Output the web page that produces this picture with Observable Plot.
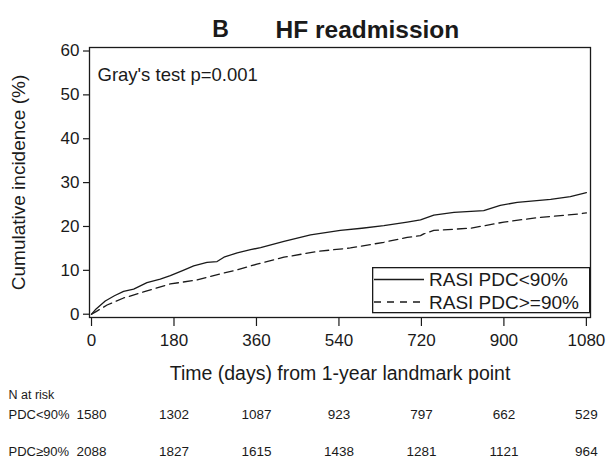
<!DOCTYPE html>
<html>
<head>
<meta charset="utf-8">
<script src="https://cdn.jsdelivr.net/npm/d3@7"></script>
<script src="https://cdn.jsdelivr.net/npm/@observablehq/plot@0.6"></script>
<style>
  html, body { margin: 0; padding: 0; background: #fff; }
  #wrap { position: relative; width: 608px; height: 471px; font-family: "Liberation Sans", Arial, sans-serif; }
  #legend { position: absolute; left: 372px; top: 267px; }
</style>
</head>
<body>
<div id="wrap"></div>
<script>
// Cumulative incidence (%) — RASI PDC<90%
const daysLt = [0, 10, 30, 50, 70, 92, 121, 150, 172, 200, 223, 252, 274, 289, 318, 347, 369, 420, 478, 543, 590, 638, 689, 718, 747, 791, 856, 892, 929, 1002, 1045, 1080];
const incLt  = [0, 1.2, 3.0, 4.2, 5.2, 5.7, 7.2, 8.0, 8.8, 10.0, 11.0, 11.8, 12.0, 13.0, 14.0, 14.7, 15.2, 16.6, 18.1, 19.1, 19.6, 20.2, 21.0, 21.5, 22.6, 23.2, 23.6, 24.8, 25.5, 26.2, 26.8, 27.7];
// Cumulative incidence (%) — RASI PDC>=90%
const daysGe = [0, 10, 34, 70, 121, 172, 230, 281, 318, 347, 361, 391, 420, 492, 565, 638, 689, 718, 725, 747, 827, 900, 972, 1067, 1080];
const incGe  = [0, 0.6, 2.1, 3.7, 5.3, 6.9, 7.8, 9.2, 10.1, 11.0, 11.4, 12.2, 13.0, 14.3, 15.1, 16.4, 17.5, 17.9, 18.3, 19.1, 19.6, 21.0, 22.0, 22.9, 23.1];

// Axis ticks
const xTicks = [0, 180, 360, 540, 720, 900, 1080];
const yTicks = [0, 10, 20, 30, 40, 50, 60];

// Numbers at risk
const riskDays = [0, 180, 360, 540, 720, 900, 1080];
const riskLt = [1580, 1302, 1087, 923, 797, 662, 529];
const riskGe = [2088, 1827, 1615, 1438, 1281, 1121, 964];
const rowLabels = ["PDC<90%", "PDC\u226590%"];

const seriesNames = ["RASI PDC<90%", "RASI PDC>=90%"];

const lt = daysLt.map((d, i) => ({day: d, inc: incLt[i]}));
const ge = daysGe.map((d, i) => ({day: d, inc: incGe[i]}));
const riskRowLt = riskDays.map((d, i) => ({day: d, n: riskLt[i]}));
const riskRowGe = riskDays.map((d, i) => ({day: d, n: riskGe[i]}));

const ink = "#1a1a1a";
const chart = Plot.plot({
  width: 608,
  height: 471,
  marginLeft: 89,
  marginRight: 18,
  marginTop: 47,
  marginBottom: 154,
  x: {domain: [-4.4, 1089]},
  y: {domain: [-0.75, 60.8]},
  style: {fontFamily: "'Liberation Sans', Arial, sans-serif", fontSize: "16px", color: ink, background: "white", overflow: "visible"},
  marks: [
    Plot.frame({stroke: ink, strokeWidth: 1.3}),
    Plot.axisY({ticks: yTicks, tickFormat: d => String(d), tickSize: 6, tickPadding: 4, fontSize: 17, label: null, strokeWidth: 1.2}),
    Plot.axisX({ticks: xTicks, tickFormat: d => String(d), tickSize: 9, tickPadding: 7, fontSize: 17, label: null, strokeWidth: 1.2}),
    Plot.line(lt, {x: "day", y: "inc", stroke: ink, strokeWidth: 1.3}),
    Plot.line(ge, {x: "day", y: "inc", stroke: ink, strokeWidth: 1.3, strokeDasharray: "9,5"}),
    // title
    Plot.text(["B"], {frameAnchor: "top-left", textAnchor: "middle", dx: 131, dy: -27, fontSize: 23, fontWeight: "bold"}),
    Plot.text(["HF readmission"], {frameAnchor: "top-left", textAnchor: "start", dx: 186, dy: -27, fontSize: 24.5, fontWeight: "bold"}),
    // Gray's test annotation
    Plot.text(["Gray's test p=0.001"], {frameAnchor: "top-left", textAnchor: "start", dx: 8, dy: 20, fontSize: 18.5}),
    // axis labels
    Plot.text(["Cumulative incidence (%)"], {frameAnchor: "left", textAnchor: "middle", rotate: -90, dx: -71, fontSize: 19}),
    Plot.text(["Time (days) from 1-year landmark point"], {frameAnchor: "bottom", dy: 62, fontSize: 19.5}),
    // risk table
    Plot.text(["N at risk"], {frameAnchor: "bottom-left", textAnchor: "start", dx: -81, dy: 81, fontSize: 12.5}),
    Plot.text([rowLabels[0]], {frameAnchor: "bottom-left", textAnchor: "start", dx: -81, dy: 101, fontSize: 13}),
    Plot.text([rowLabels[1]], {frameAnchor: "bottom-left", textAnchor: "start", dx: -81, dy: 138, fontSize: 13}),
    Plot.text(riskRowLt, {x: "day", text: d => String(d.n), frameAnchor: "bottom", dy: 101, fontSize: 13.5}),
    Plot.text(riskRowGe, {x: "day", text: d => String(d.n), frameAnchor: "bottom", dy: 138, fontSize: 13.5})
  ]
});
document.getElementById("wrap").appendChild(chart);

// Legend box (inside plot area, lower right)
const lg = d3.select("#wrap").append("svg").attr("id", "legend")
  .attr("width", 219).attr("height", 47)
  .style("font-family", "'Liberation Sans', Arial, sans-serif");
lg.append("rect").attr("x", 0.65).attr("y", 0.65).attr("width", 217).attr("height", 45)
  .attr("fill", "white").attr("stroke", ink).attr("stroke-width", 1.3);
const rows = [{y: 12.5, dash: null}, {y: 35, dash: "7,6"}];
rows.forEach((r, i) => {
  lg.append("line").attr("x1", 2).attr("x2", 52).attr("y1", r.y).attr("y2", r.y)
    .attr("stroke", ink).attr("stroke-width", 1.3).attr("stroke-dasharray", r.dash);
  lg.append("text").attr("x", 57).attr("y", r.y).attr("dy", "0.35em")
    .attr("font-size", 19).attr("fill", ink).text(seriesNames[i]);
});
</script>
</body>
</html>
